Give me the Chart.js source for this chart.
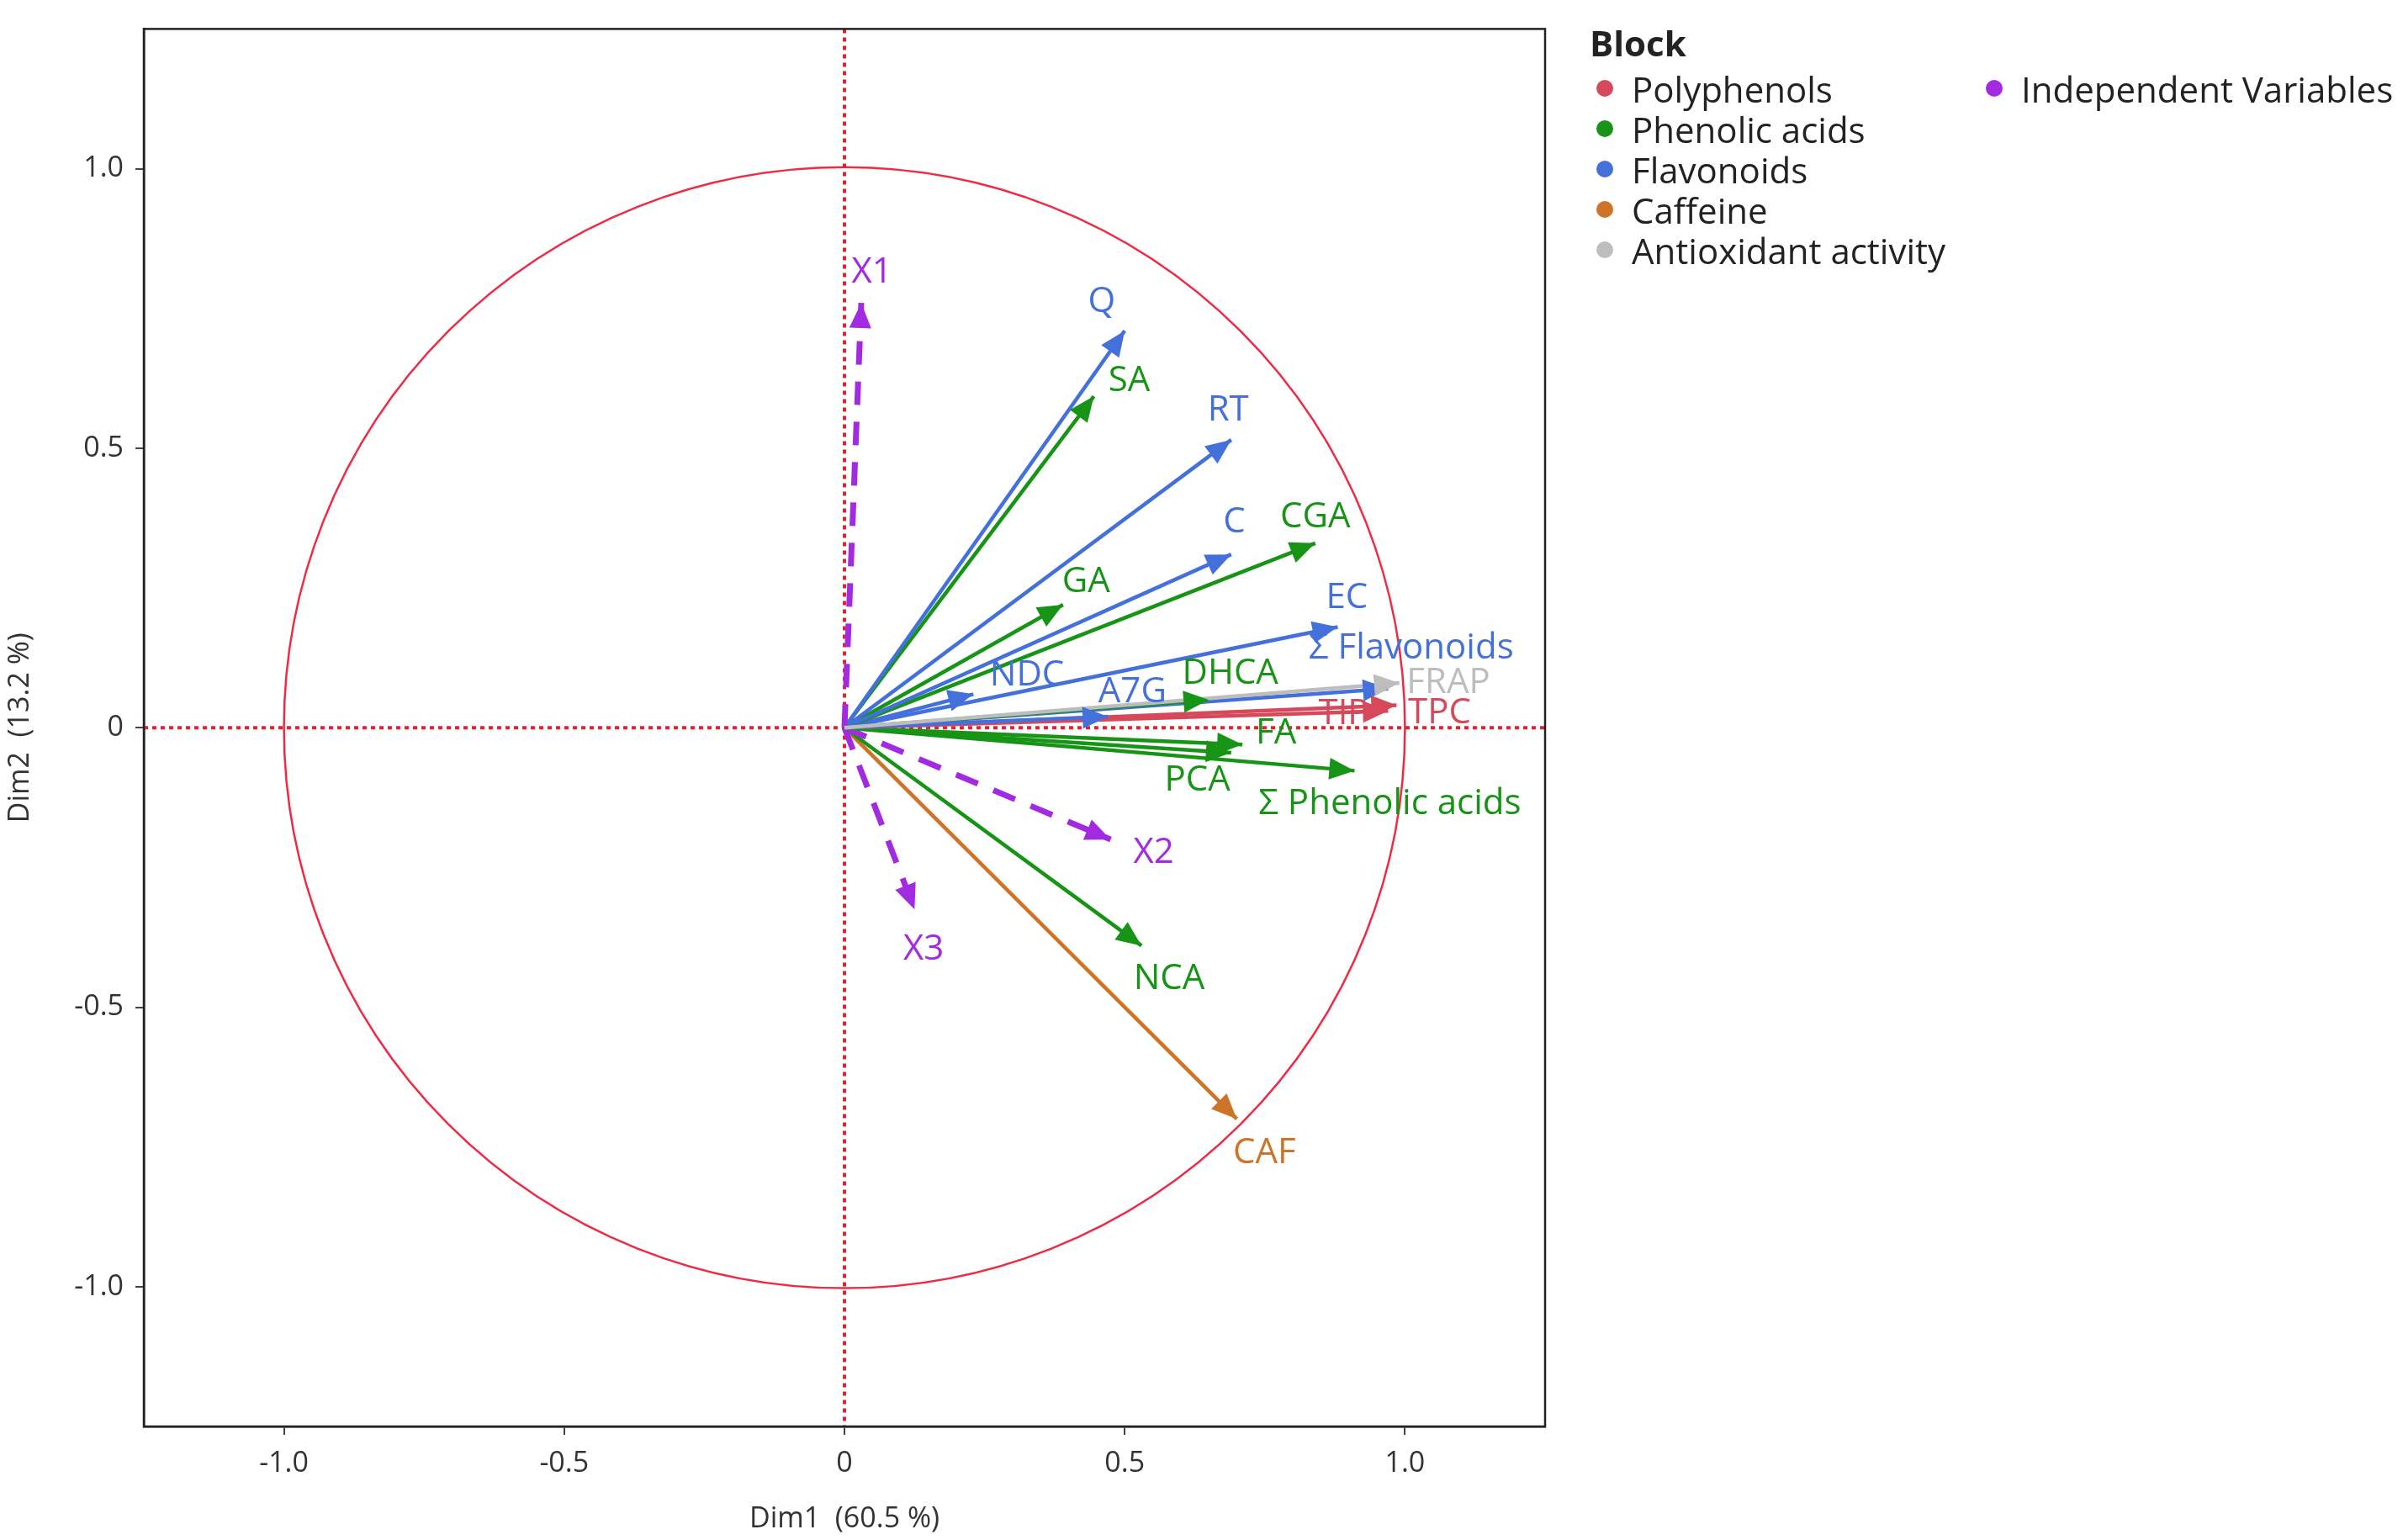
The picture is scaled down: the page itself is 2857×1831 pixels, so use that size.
<!DOCTYPE html>
<html>
<head>
<meta charset="utf-8">
<script src="https://cdn.jsdelivr.net/npm/chart.js@4"></script>
<style>
body { margin: 0; background: #fff; }
#wrap { position: relative; width: 2857px; height: 1831px; }
#legend { position: absolute; left: 1890px; top: 22px; font-family: 'Open Sans', 'Noto Sans', sans-serif; font-size: 42px; color: #222; }
#legend .ttl { font-weight: bold; margin-bottom: 2px; }
#legend .cols { display: flex; gap: 40px; }
#legend .item { display: flex; align-items: center; height: 48px; }
#legend .dot { width: 20px; height: 20px; border-radius: 50%; margin: 0 22px 0 8px; }
</style>
</head>
<body>
<div id="wrap">
<canvas id="biplot" width="2857" height="1831"></canvas>
<div id="legend"></div>
</div>
<script>
// Variables and their loadings on Dim1 / Dim2
const varNames = ["X1", "Q", "SA", "RT", "C", "CGA", "GA", "EC", "NDC", "A7G", "DHCA", "Σ Flavonoids", "FRAP", "TIP", "TPC", "FA", "PCA", "Σ Phenolic acids", "X2", "X3", "NCA", "CAF"];
const dim1 = [0.03, 0.50, 0.445, 0.69, 0.69, 0.84, 0.39, 0.88, 0.23, 0.47, 0.65, 0.97, 0.99, 0.97, 0.985, 0.71, 0.69, 0.91, 0.475, 0.125, 0.53, 0.70];
const dim2 = [0.76, 0.71, 0.593, 0.515, 0.31, 0.33, 0.22, 0.18, 0.06, 0.02, 0.05, 0.07, 0.08, 0.03, 0.04, -0.03, -0.045, -0.077, -0.20, -0.325, -0.39, -0.70];
const varBlock = ["Independent Variables", "Flavonoids", "Phenolic acids", "Flavonoids", "Flavonoids", "Phenolic acids", "Phenolic acids", "Flavonoids", "Flavonoids", "Flavonoids", "Phenolic acids", "Flavonoids", "Antioxidant activity", "Polyphenols", "Polyphenols", "Phenolic acids", "Phenolic acids", "Phenolic acids", "Independent Variables", "Independent Variables", "Phenolic acids", "Caffeine"];
const blocks = ["Polyphenols", "Phenolic acids", "Flavonoids", "Caffeine", "Antioxidant activity", "Independent Variables"];
const blockColors = ["#D6495A", "#179416", "#4470DC", "#CD7428", "#BDBDBD", "#A22BE2"];
const tickVals = [-1.0, -0.5, 0, 0.5, 1.0];

// label offsets from the arrow tip (reference pixels)
const S = 1.822;
const labelDx = [7, -15, 23, -2, 2, 0, 15, 6, 35, 16, 14, 15, 32, -29, 28, 22, -22, 23, 28, 6, 18, 18];
const labelDy = [-20, -19, -10, -19, -21, -17, -15, -19, -12, -16, -17, -26, 0, 2, 5, -7, 18, 22, 9, 26, 22, 22];

const colorOf = b => blockColors[blocks.indexOf(b)];
const fmt = v => v === 0 ? '0' : v.toFixed(1);

// legend
const leg = document.getElementById('legend');
const itemHtml = b => `<div class="item"><span class="dot" style="background:${colorOf(b)}"></span>${b}</div>`;
leg.innerHTML = `<div class="ttl">Block</div><div class="cols"><div>${blocks.slice(0, 5).map(itemHtml).join('')}</div><div>${itemHtml(blocks[5])}</div></div>`;

const datasets = varNames.map((n, i) => {
	const c = colorOf(varBlock[i]);
	const indep = varBlock[i] === "Independent Variables";
	return {
		label: n,
		data: [{ x: 0, y: 0 }, { x: dim1[i], y: dim2[i] }],
		showLine: true,
		borderColor: c,
		borderWidth: indep ? 7 : 4.5,
		borderDash: indep ? [28, 20] : [],
		pointRadius: 0,
		order: varBlock[i] === "Antioxidant activity" ? -1 : 0,
	};
});

const decor = {
	id: 'decor',
	beforeDatasetsDraw(chart) {
		const { ctx, chartArea: a, scales: { x, y } } = chart;
		ctx.save();
		// unit circle
		ctx.strokeStyle = '#EE2B45';
		ctx.lineWidth = 2.5;
		ctx.beginPath();
		ctx.arc(x.getPixelForValue(0), y.getPixelForValue(0), x.getPixelForValue(1) - x.getPixelForValue(0), 0, Math.PI * 2);
		ctx.stroke();
		// dotted axes
		ctx.strokeStyle = '#E8202E';
		ctx.lineWidth = 4;
		ctx.setLineDash([5, 5]);
		ctx.beginPath();
		ctx.moveTo(a.left, y.getPixelForValue(0)); ctx.lineTo(a.right, y.getPixelForValue(0));
		ctx.moveTo(x.getPixelForValue(0), a.top); ctx.lineTo(x.getPixelForValue(0), a.bottom);
		ctx.stroke();
		ctx.restore();
	},
	afterDatasetsDraw(chart) {
		const { ctx, chartArea: a, scales: { x, y } } = chart;
		ctx.save();
		const x0 = x.getPixelForValue(0), y0 = y.getPixelForValue(0);
		varNames.forEach((n, i) => {
			const px = x.getPixelForValue(dim1[i]), py = y.getPixelForValue(dim2[i]);
			const ang = Math.atan2(py - y0, px - x0);
			const L = 30, W = 13;
			ctx.fillStyle = colorOf(varBlock[i]);
			ctx.beginPath();
			ctx.moveTo(px, py);
			ctx.lineTo(px - L * Math.cos(ang) + W * Math.sin(ang), py - L * Math.sin(ang) - W * Math.cos(ang));
			ctx.lineTo(px - L * Math.cos(ang) - W * Math.sin(ang), py - L * Math.sin(ang) + W * Math.cos(ang));
			ctx.closePath();
			ctx.fill();
		});
		ctx.font = '42px "Open Sans", "Noto Sans", sans-serif';
		ctx.textAlign = 'center';
		ctx.textBaseline = 'middle';
		varNames.forEach((n, i) => {
			ctx.fillStyle = colorOf(varBlock[i]);
			ctx.fillText(n, x.getPixelForValue(dim1[i]) + labelDx[i] * S, y.getPixelForValue(dim2[i]) + labelDy[i] * S);
		});
		// frame
		ctx.strokeStyle = '#222';
		ctx.lineWidth = 2.5;
		ctx.strokeRect(a.left, a.top, a.right - a.left, a.bottom - a.top);
		ctx.restore();
	}
};

const axisCommon = (title) => ({
	type: 'linear',
	min: -1.25,
	max: 1.25,
	afterBuildTicks: s => { s.ticks = tickVals.map(v => ({ value: v })); },
	grid: { display: true, drawOnChartArea: false, drawTicks: true, tickLength: 10, color: '#444', lineWidth: 2 },
	border: { display: true, color: '#222', width: 2.5 },
	ticks: { color: '#333', font: { size: 34, family: '"Open Sans", "Noto Sans", sans-serif' }, callback: v => fmt(v), padding: 14, maxRotation: 0 },
	title: { display: true, text: title, color: '#333', font: { size: 34, family: '"Open Sans", "Noto Sans", sans-serif' } },
});

const xAxis = axisCommon('Dim1  (60.5 %)');
xAxis.afterFit = s => { s.height = 135; };
const yAxis = axisCommon('Dim2  (13.2 %)');
yAxis.afterFit = s => { s.width = 171; };

new Chart(document.getElementById('biplot'), {
	type: 'scatter',
	data: { datasets },
	options: {
		responsive: false,
		animation: false,
		layout: { padding: { left: 0, top: 29, right: 1020, bottom: 0 } },
		scales: { x: xAxis, y: yAxis },
		plugins: { legend: { display: false }, tooltip: { enabled: false } },
	},
	plugins: [decor],
});
</script>
</body>
</html>
